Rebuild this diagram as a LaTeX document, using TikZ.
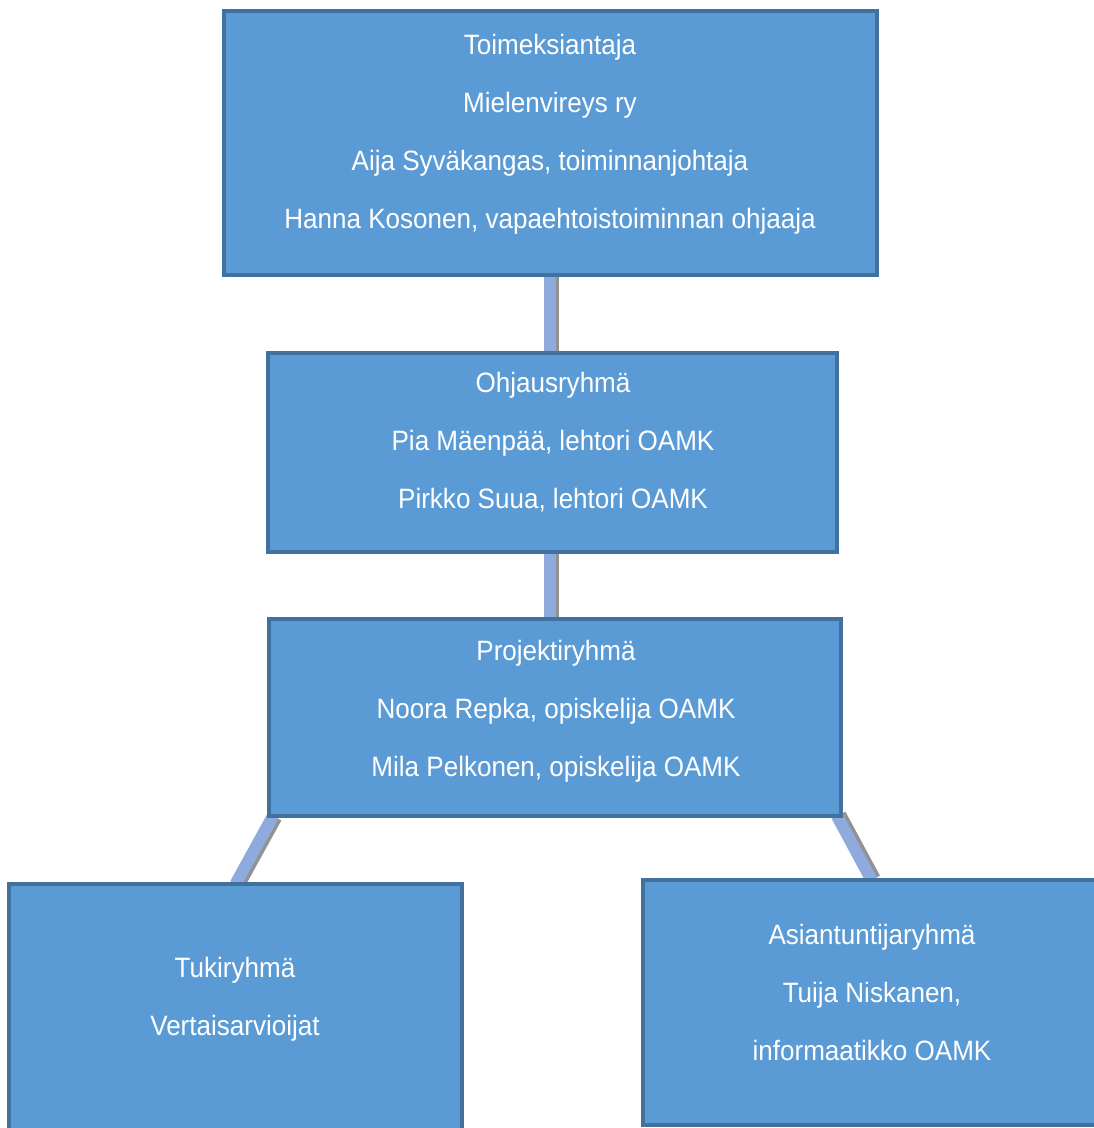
\documentclass[tikz,border=0pt]{standalone}
\usepackage{fontspec}
\setmainfont{Liberation Sans}[FakeStretch=0.93]
\usetikzlibrary{backgrounds,calc}
\definecolor{boxfill}{HTML}{5B9BD5}
\definecolor{boxline}{HTML}{41719C}
\definecolor{conn}{HTML}{8FAADC}
\definecolor{connshadow}{HTML}{6E6E6E}
\tikzset{
  orgbox/.style={draw=boxline, fill=boxfill, line width=3.5pt, rectangle, inner sep=0pt, outer sep=0pt},
  orgtext/.style={text=white, align=center, anchor=base, inner sep=0pt, font=\fontsize{28}{57.7}\selectfont},
  connector/.style={draw=conn, line width=12pt},
  connshade/.style={draw=connshadow, line width=10pt, opacity=0.75},
}
\begin{document}
\begin{tikzpicture}[x=1pt,y=-1pt]
\useasboundingbox (0,0) rectangle (1094,1128);
\clip (0,0) rectangle (1094,1128);
\node[orgbox, minimum width=653pt, minimum height=264pt] (top) at (550.5,143) {};
\node[orgbox, minimum width=569pt, minimum height=199pt] (mid) at (552.5,452.5) {};
\node[orgbox, minimum width=572pt, minimum height=197pt] (proj) at (555,717.5) {};
\node[orgbox, minimum width=453pt, minimum height=256pt] (tuki) at (235.5,1012) {};
\node[orgbox, minimum width=457pt, minimum height=245pt] (asian) at (871.5,1002.5) {};

\node[orgtext] (toptext) at (550,228) {Toimeksiantaja\\Mielenvireys ry\\Aija Syväkangas, toiminnanjohtaja\\Hanna Kosonen, vapaehtoistoiminnan ohjaaja};
\node[orgtext] (midtext) at (553,508) {Ohjausryhmä\\Pia Mäenpää, lehtori OAMK\\Pirkko Suua, lehtori OAMK};
\node[orgtext] (projtext) at (556,776) {Projektiryhmä\\Noora Repka, opiskelija OAMK\\Mila Pelkonen, opiskelija OAMK};
\node[orgtext] (tukitext) at (235,1035) {Tukiryhmä\\Vertaisarvioijat};
\node[orgtext] (asiantext) at (872,1060) {Asiantuntijaryhmä\\Tuija Niskanen,\\informaatikko OAMK};

\begin{scope}[on background layer]
  \coordinate (c1a) at ($(top.south)+(-1,0)$);
  \coordinate (c1b) at (c1a |- mid.north);
  \coordinate (c2a) at (c1a |- mid.south);
  \coordinate (c2b) at (c1a |- proj.north);
  \coordinate (c3a) at ($(proj.south west)+(4,0)$);
  \coordinate (c4a) at ($(proj.south east)+(-4,0)$);
  \draw[connshade] ($(c1a)+(4,0)$) -- ($(c1b)+(4,0)$);
  \draw[connshade] ($(c2a)+(4,0)$) -- ($(c2b)+(4,0)$);
  \draw[connshade] ($(c3a)+(4,2)$) -- ($(tuki.north)+(4,2)$);
  \draw[connshade] ($(c4a)+(4,-2)$) -- ($(asian.north)+(4,-2)$);
  \draw[connector] (c1a) -- (c1b);
  \draw[connector] (c2a) -- (c2b);
  \draw[connector] (c3a) -- (tuki.north);
  \draw[connector] (c4a) -- (asian.north);
\end{scope}
\end{tikzpicture}
\end{document}
